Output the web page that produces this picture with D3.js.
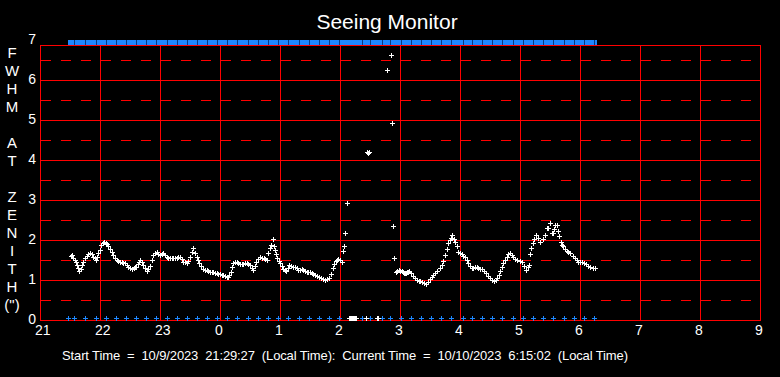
<!DOCTYPE html>
<html>
<head>
<meta charset="utf-8">
<script src="https://cdn.jsdelivr.net/npm/d3@7"></script>
<style>
    html, body { margin: 0; padding: 0; background: #000; }
    svg { display: block; }
    text { font-family: "Liberation Sans", Arial, sans-serif; fill: #fff; }
</style>
</head>
<body>
<svg id="chart"></svg>
<script>
// --- DATA: [minutes after 21:00, FWHM arcsec] ---
const readings = [
    [31, 1.60], [32, 1.63], [33.3, 1.55], [34.5, 1.50], [35.5, 1.45], [36.7, 1.38], [38, 1.30], [39.3, 1.23], [40.5, 1.28], [41.7, 1.37],
    [43, 1.45], [45, 1.55], [46.5, 1.60], [48, 1.65], [50, 1.68], [51.5, 1.65], [53.3, 1.58], [54.5, 1.55], [56, 1.50], [57, 1.58],
    [58.3, 1.67], [59.5, 1.75], [61, 1.87], [62.5, 1.93], [64, 1.96], [65.5, 1.93], [67, 1.90], [68.3, 1.85], [70, 1.78], [71.7, 1.71],
    [73.3, 1.62], [75, 1.54], [76.5, 1.50], [78, 1.47], [80, 1.44], [81.5, 1.45], [83, 1.43], [85, 1.42], [86.7, 1.37], [88.3, 1.32],
    [90, 1.30], [91.7, 1.27], [93.5, 1.30], [95, 1.32], [96, 1.33], [97.5, 1.40], [99, 1.46], [100, 1.50], [101.5, 1.45], [103.3, 1.37],
    [105, 1.29], [106.7, 1.23], [108.3, 1.27], [110, 1.35], [111.7, 1.50], [113.3, 1.62], [115, 1.68], [116.7, 1.71], [118.3, 1.66], [120, 1.62],
    [121.7, 1.66], [123.3, 1.67], [125, 1.62], [126.7, 1.57], [128.3, 1.56], [130, 1.55], [131.7, 1.54], [133.3, 1.56], [135, 1.55], [136.7, 1.54],
    [138.3, 1.57], [140, 1.58], [141.7, 1.52], [143.3, 1.46], [145, 1.44], [146.7, 1.42], [148.3, 1.48], [150, 1.58], [151.7, 1.70], [153.3, 1.79],
    [155, 1.68], [156.7, 1.58], [158, 1.50], [159.3, 1.42], [161.3, 1.34], [163.3, 1.27], [165, 1.25], [166.7, 1.24], [168.3, 1.22], [170, 1.21],
    [171.7, 1.20], [173.3, 1.19], [175, 1.18], [176.7, 1.17], [178.3, 1.16], [180, 1.14], [181.7, 1.12], [183.3, 1.12], [185, 1.10], [186.7, 1.08],
    [188, 1.07], [189.3, 1.12], [190.7, 1.21], [192, 1.32], [193.3, 1.42], [195, 1.44], [196.7, 1.44], [198.3, 1.42], [200, 1.40], [201.7, 1.39],
    [203.3, 1.41], [205, 1.42], [206.7, 1.42], [208.3, 1.40], [210, 1.37], [211.7, 1.30], [213.3, 1.25], [214.7, 1.36], [216, 1.46], [218, 1.53],
    [220, 1.58], [222, 1.56], [224, 1.54], [225.3, 1.52], [226.7, 1.50], [228.3, 1.67], [229.5, 1.80], [230.7, 1.87], [232.7, 2.02], [234, 1.85],
    [235, 1.75], [236, 1.65], [237.3, 1.54], [238.7, 1.48], [240, 1.42], [241.7, 1.35], [243.3, 1.27], [244.7, 1.25], [246, 1.23], [247.7, 1.30],
    [249.3, 1.37], [251.3, 1.35], [253.3, 1.33], [255, 1.32], [256.7, 1.29], [258.3, 1.25], [260, 1.26], [261.7, 1.27], [263.3, 1.25], [265, 1.23],
    [266.7, 1.21], [268.3, 1.20], [270, 1.19], [271.7, 1.18], [273.3, 1.15], [275, 1.12], [276.7, 1.10], [278.7, 1.07], [280.7, 1.04], [282.8, 1.02],
    [285, 1.00], [287, 1.02], [289.3, 1.05], [291, 1.15], [292.7, 1.29], [294.3, 1.40], [296, 1.48], [297.2, 1.51], [298.3, 1.52], [300, 1.50],
    [301.7, 1.46], [302.7, 1.73], [304, 1.85], [305.3, 2.17], [306.7, 2.92],
    [327, 4.20], [328, 4.18], [329, 4.20],
    [346.7, 6.25], [351.3, 6.62], [352.3, 4.92], [353.3, 2.34], [354.3, 1.54],
    [356, 1.21], [357.3, 1.22], [358.7, 1.24], [360, 1.23], [361.7, 1.23], [363, 1.19], [364, 1.17], [365, 1.18], [366, 1.17], [367.3, 1.19],
    [368.3, 1.21], [369.3, 1.23], [371, 1.17], [372.7, 1.11], [374.7, 1.05], [376.7, 1.00], [378.5, 0.98], [380, 0.97], [381.7, 0.96], [383.8, 0.93],
    [386, 0.89], [388, 0.95], [390, 1.03], [391.7, 1.08], [393.3, 1.12], [395.3, 1.18], [397.3, 1.23], [399.5, 1.30], [401.7, 1.37], [403.3, 1.48],
    [405, 1.62], [406.7, 1.78], [408.3, 1.92], [410, 2.00], [411.2, 2.05], [412.3, 2.12], [413.7, 2.02], [415, 1.96], [416.7, 1.84], [418.3, 1.71],
    [420, 1.67], [421.7, 1.64], [423.3, 1.61], [425, 1.58], [426.7, 1.50], [428.3, 1.42], [430, 1.35], [431.7, 1.29], [433.3, 1.31], [435, 1.33],
    [436.7, 1.32], [438.3, 1.30], [440, 1.28], [441.7, 1.27], [443.8, 1.22], [446, 1.17], [448, 1.10], [450, 1.04], [452, 1.00], [454, 0.98],
    [455.7, 1.00], [457.3, 1.04], [458.7, 1.12], [460, 1.23], [461.7, 1.32], [463.3, 1.42], [465, 1.50], [466.7, 1.58], [468.3, 1.65], [470, 1.68],
    [471.7, 1.62], [473.3, 1.57], [475.3, 1.53], [477.3, 1.50], [479.5, 1.48], [481.7, 1.46], [483.8, 1.36], [486, 1.26], [487.7, 1.32], [489.3, 1.38],
    [490, 1.66], [491.3, 1.80], [492.7, 1.93], [494.3, 2.02], [496, 2.12], [498, 2.04], [500.3, 1.96], [502.5, 2.02], [505, 2.12], [506.7, 2.29],
    [508.3, 2.30], [510, 2.42], [511.7, 2.18], [512.7, 2.17], [514, 2.28], [515, 2.37], [516.7, 2.37], [518, 2.22], [519.3, 2.10], [520.5, 1.95],
    [521.7, 1.87], [522.7, 1.85], [524.7, 1.78], [526.7, 1.72], [528.3, 1.70], [530, 1.67], [532.5, 1.60], [535, 1.56], [536.7, 1.50], [538.3, 1.46],
    [540, 1.46], [541.7, 1.46], [543.8, 1.43], [546, 1.40], [548, 1.36], [550, 1.33], [552.5, 1.31], [555, 1.29]
];

// blue marks along the floor, and the span of the blue band along the top
const flagMinutes = [28.3, 34, 45, 55.7, 65.7, 75.7, 85.7, 95.7, 106, 116, 126.7, 136.7, 146.7, 157.3, 167.3, 177.3, 187.3, 197.3,
    208.3, 218.3, 228.3, 238.3, 248.3, 259.3, 269.3, 279.3, 289.3, 299.3, 321.7, 330, 341.7, 350, 360.7, 371, 381, 391, 401, 411,
    422.7, 431.7, 441.7, 451.7, 462.3, 472.7, 482.7, 492.7, 503.3, 513.3, 524.3, 534.3, 544.3, 554.3];
const topFlagSpan = [28, 557];
// white marks on the floor
const rejectMinutes = [309, 310, 311, 312, 313, 314, 315, 316, 325.7, 337, 338];

const hourLabels = ["21", "22", "23", "0", "1", "2", "3", "4", "5", "6", "7", "8", "9"];
const yTickValues = [0, 1, 2, 3, 4, 5, 6, 7];
const yHalfValues = [0.5, 1.5, 2.5, 3.5, 4.5, 5.5, 6.5];
const axisLetters = ["F", "W", "H", "M", "", "A", "T", "", "Z", "E", "N", "I", "T", "H", "(\")"];

const titleText = "Seeing Monitor";
const footerText = "Start Time  =  10/9/2023  21:29:27  (Local Time):  Current Time  =  10/10/2023  6:15:02  (Local Time)";

// --- LAYOUT ---
const W = 780, H = 377;
const RED = "#ff0000", BLUE = "#1e88ff";

const svg = d3.select("#chart").attr("width", W).attr("height", H);
svg.append("rect").attr("width", W).attr("height", H).attr("fill", "#000");

const x = d3.scaleLinear().domain([0, 720]).range([40, 760]);
const y = d3.scaleLinear().domain([0, 7]).range([320, 40]);
const frameTop = y(7) + 5;

const px = v => Math.round(v) + 0.5;
const plus = (cx, cy) => {
    const a = Math.round(cx), b = Math.round(cy);
    return `M${a - 2},${b + 0.5}H${a + 3}M${a + 0.5},${b - 2}V${b + 3}`;
};

const grid = svg.append("g").attr("shape-rendering", "crispEdges");

// dashed half-unit lines
grid.selectAll(".half").data(yHalfValues).join("line")
    .attr("x1", x(0)).attr("x2", x(720))
    .attr("y1", d => px(y(d))).attr("y2", d => px(y(d)))
    .attr("stroke", RED).attr("stroke-width", 1)
    .attr("stroke-dasharray", "10,10").attr("stroke-dashoffset", -1);

// solid unit lines
grid.selectAll(".unit").data(yTickValues.filter(d => d > 0 && d < 7)).join("line")
    .attr("x1", x(0)).attr("x2", x(720))
    .attr("y1", d => px(y(d))).attr("y2", d => px(y(d)))
    .attr("stroke", RED).attr("stroke-width", 1);

// hour lines
grid.selectAll(".hour").data(hourLabels.slice(1, -1)).join("line")
    .attr("x1", (d, i) => px(x((i + 1) * 60))).attr("x2", (d, i) => px(x((i + 1) * 60)))
    .attr("y1", frameTop).attr("y2", y(0))
    .attr("stroke", RED).attr("stroke-width", 1);

// frame
grid.append("rect")
    .attr("x", px(x(0))).attr("y", px(frameTop))
    .attr("width", x(720) - x(0)).attr("height", y(0) - frameTop)
    .attr("fill", "none").attr("stroke", RED).attr("stroke-width", 1);

// y labels
svg.selectAll(".ylab").data(yTickValues).join("text")
    .attr("x", 36).attr("y", d => y(d)).attr("dy", "0.3em")
    .attr("text-anchor", "end").attr("font-size", 14)
    .text(d => d);

// x labels (left edge sits just before the hour line)
svg.selectAll(".xlab").data(hourLabels).join("text")
    .attr("x", (d, i) => x(i * 60) - 5).attr("y", 335)
    .attr("font-size", 14)
    .text(d => d);

// vertical axis title, one letter per row
svg.selectAll(".vlet").data(axisLetters).join("text")
    .attr("x", 12).attr("y", (d, i) => 53 + i * 18).attr("dy", "0.36em")
    .attr("text-anchor", "middle").attr("font-size", 15)
    .text(d => d);

// title & footer
svg.append("text").attr("x", 387).attr("y", 29)
    .attr("text-anchor", "middle").attr("font-size", 21).text(titleText);
svg.append("text").attr("x", 62).attr("y", 360)
    .attr("font-size", 13).style("white-space", "pre")
    .attr("textLength", 566).attr("lengthAdjust", "spacing")
    .text(footerText);

// top blue band
const marks = svg.append("g").attr("shape-rendering", "crispEdges");
marks.append("rect")
    .attr("x", Math.round(x(topFlagSpan[0]))).attr("y", Math.round(y(7)))
    .attr("width", Math.round(x(topFlagSpan[1]) - x(topFlagSpan[0]))).attr("height", 5)
    .attr("fill", BLUE);
marks.selectAll(".gap").data(flagMinutes.filter(d => d > topFlagSpan[0] + 2)).join("line")
    .attr("x1", d => px(x(d))).attr("x2", d => px(x(d)))
    .attr("y1", y(7)).attr("y2", y(7) + 5)
    .attr("stroke", "#0a3a80").attr("stroke-width", 1);

// floor marks
marks.selectAll(".flag").data(flagMinutes).join("path")
    .attr("d", d => plus(x(d), y(0.05)))
    .attr("stroke", BLUE).attr("stroke-width", 1).attr("fill", "none");
marks.selectAll(".reject").data(rejectMinutes).join("path")
    .attr("d", d => plus(x(d), y(0.05)))
    .attr("stroke", "#fff").attr("stroke-width", 1).attr("fill", "none");

// FWHM readings
marks.selectAll(".pt").data(readings).join("path")
    .attr("d", d => plus(x(d[0]), y(d[1])))
    .attr("stroke", "#fff").attr("stroke-width", 1).attr("fill", "none");
</script>
</body>
</html>
